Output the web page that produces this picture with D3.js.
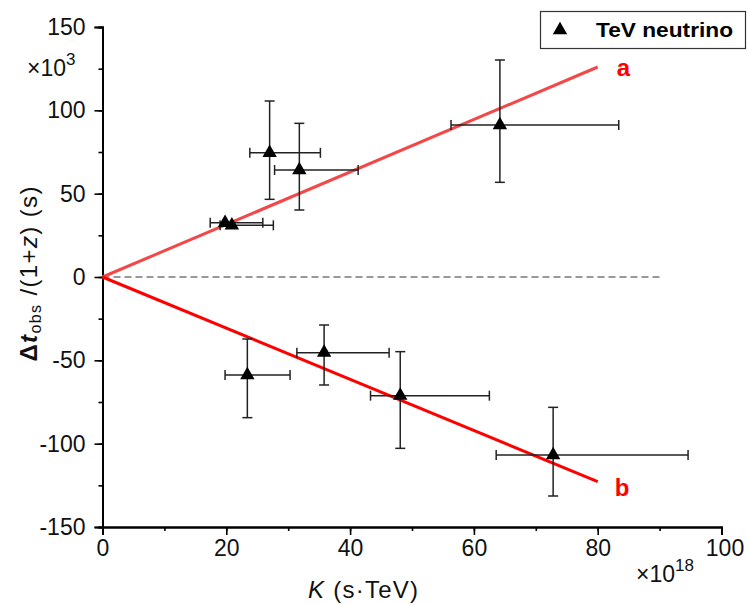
<!DOCTYPE html>
<html><head><meta charset="utf-8">
<script src="https://cdn.jsdelivr.net/npm/d3@7/dist/d3.min.js"></script>
<style>body{margin:0;background:#fff}svg{display:block}text{font-family:"Liberation Sans",Arial,sans-serif}</style>
</head><body><div id="chart"></div>
<script>
// Data (K in 1e18 s·TeV, Δt in 1e3 s)
const K      = [19.8, 20.9, 27.0, 31.8, 64.2, 23.4, 35.8, 48.1, 72.8];
const dt     = [32.5, 31.0, 74.5, 64.2, 91.2, -58.8, -45.4, -71.2, -106.8];
const kLow   = [17.4, 19.0, 23.8, 27.8, 56.3, 19.8, 31.4, 43.3, 63.6];
const kHigh  = [25.9, 27.6, 35.2, 41.3, 83.4, 30.3, 46.3, 62.5, 94.6];
const dtLow  = [32.5, 31.0, 46.6, 40.2, 56.8, -84.4, -64.8, -102.8, -131.4];
const dtHigh = [32.5, 31.0, 105.6, 92.2, 130.2, -37.2, -28.8, -44.8, -78.2];
const fitNames = ["a", "b"];
const fitSlopes = [1.575, -1.535];
const fitRange = [0, 80];
const zeroRange = [0, 90];
const xTicks = [0, 20, 40, 60, 80, 100];
const yTicks = [-150, -100, -50, 0, 50, 100, 150];
const legendLabel = "TeV neutrino";

const W = 748, H = 604;
const svg = d3.select("#chart").append("svg").attr("width", W).attr("height", H);
svg.append("rect").attr("width", W).attr("height", H).attr("fill", "#fff");

const x = d3.scaleLinear().domain([0, 100]).range([102.5, 721.5]);
const y = d3.scaleLinear().domain([-150, 150]).range([527, 27]);

// zero dashed line
svg.append("line")
  .attr("x1", x(zeroRange[0])).attr("x2", x(zeroRange[1]))
  .attr("y1", y(0)).attr("y2", y(0))
  .attr("stroke", "#333").attr("stroke-width", 1).attr("stroke-dasharray", "7,4");

// axes
const fs = 23;
const fmt = d => String(d);
const yAxisMinor = d3.axisLeft(y).tickValues(d3.range(-150, 151, 25)).tickSize(4).tickFormat("");
const yAxis = d3.axisLeft(y).tickValues(yTicks).tickSize(8).tickPadding(9).tickFormat(fmt);
const xAxisMinor = d3.axisBottom(x).tickValues(d3.range(0, 101, 10)).tickSize(4).tickFormat("");
const xAxis = d3.axisBottom(x).tickValues(xTicks).tickSize(8).tickPadding(5).tickFormat(fmt);

function styleAxis(g) {
  g.attr("font-family", null);
  g.select(".domain").attr("stroke", "#000").attr("stroke-width", 2);
  g.selectAll(".tick line").attr("stroke", "#000").attr("stroke-width", 1.6);
  g.selectAll(".tick text").attr("font-size", fs).attr("fill", "#111");
}
const gy0 = svg.append("g").attr("transform", `translate(${x(0)},0)`).call(yAxisMinor); styleAxis(gy0);
const gy = svg.append("g").attr("transform", `translate(${x(0)},0)`).call(yAxis); styleAxis(gy);
const gx0 = svg.append("g").attr("transform", `translate(0,${y(-150)})`).call(xAxisMinor); styleAxis(gx0);
const gx = svg.append("g").attr("transform", `translate(0,${y(-150)})`).call(xAxis); styleAxis(gx);
gx.selectAll(".tick text").filter(d => d === 100).attr("dx", 3);

// fit lines
const fitColors = ["#f44848", "#ff0000"];
fitNames.forEach((n, i) => {
  svg.append("line")
    .attr("x1", x(fitRange[0])).attr("y1", y(fitSlopes[i] * fitRange[0]))
    .attr("x2", x(fitRange[1])).attr("y2", y(fitSlopes[i] * fitRange[1]))
    .attr("stroke", fitColors[i]).attr("stroke-width", 3);
  svg.append("text")
    .attr("x", x(fitRange[1]) + (i === 0 ? 19 : 17))
    .attr("y", y(fitSlopes[i] * fitRange[1]) + (i === 0 ? 9 : 14))
    .attr("font-size", 24).attr("font-weight", "bold").attr("fill", "#ff0000")
    .text(n);
});

// error bars
const eb = svg.append("g").attr("stroke", "#222").attr("stroke-width", 1.5);
const cap = 5;
K.forEach((k, i) => {
  eb.append("line").attr("x1", x(kLow[i])).attr("x2", x(kHigh[i])).attr("y1", y(dt[i])).attr("y2", y(dt[i]));
  eb.append("line").attr("x1", x(kLow[i])).attr("x2", x(kLow[i])).attr("y1", y(dt[i]) - cap).attr("y2", y(dt[i]) + cap);
  eb.append("line").attr("x1", x(kHigh[i])).attr("x2", x(kHigh[i])).attr("y1", y(dt[i]) - cap).attr("y2", y(dt[i]) + cap);
  if (dtHigh[i] !== dtLow[i]) {
    eb.append("line").attr("x1", x(k)).attr("x2", x(k)).attr("y1", y(dtLow[i])).attr("y2", y(dtHigh[i]));
    eb.append("line").attr("x1", x(k) - cap).attr("x2", x(k) + cap).attr("y1", y(dtLow[i])).attr("y2", y(dtLow[i]));
    eb.append("line").attr("x1", x(k) - cap).attr("x2", x(k) + cap).attr("y1", y(dtHigh[i])).attr("y2", y(dtHigh[i]));
  }
});

// markers
const tri = d3.symbol().type(d3.symbolTriangle).size(90);
svg.append("g").selectAll("path").data(K).join("path")
  .attr("d", tri)
  .attr("transform", (d, i) => `translate(${x(d)},${y(dt[i])})`)
  .attr("fill", "#000");

// multipliers
const m1 = svg.append("text").attr("x", 27).attr("y", 76).attr("font-size", fs).attr("fill", "#111");
m1.append("tspan").text("×10");
m1.append("tspan").attr("font-size", 17).attr("dy", -11).text("3");
const m2 = svg.append("text").attr("x", 636).attr("y", 582).attr("font-size", fs).attr("fill", "#111");
m2.append("tspan").text("×10");
m2.append("tspan").attr("font-size", 17).attr("dy", -11).text("18");

// axis titles
const xl = svg.append("text").attr("x", 363).attr("y", 598).attr("text-anchor", "middle")
  .attr("font-size", 24).attr("fill", "#111").attr("textLength", 110).attr("lengthAdjust", "spacing");
xl.append("tspan").attr("font-style", "italic").text("K");
xl.append("tspan").text(" (s·TeV)");

const yl = svg.append("text").attr("transform", "translate(37,274) rotate(-90)").attr("text-anchor", "middle")
  .attr("font-size", 24).attr("fill", "#111").attr("textLength", 175).attr("lengthAdjust", "spacing");
yl.append("tspan").attr("font-weight", "bold").text("Δ");
yl.append("tspan").attr("font-weight", "bold").attr("font-style", "italic").text("t");
yl.append("tspan").attr("font-size", 16).attr("dy", 4).text("obs");
yl.append("tspan").attr("dy", -4).text(" /(1+");
yl.append("tspan").attr("font-style", "italic").text("z");
yl.append("tspan").text(") (s)");

// legend
const lg = svg.append("g");
lg.append("rect").attr("x", 540.5).attr("y", 11.5).attr("width", 205).attr("height", 37)
  .attr("fill", "#fff").attr("stroke", "#333").attr("stroke-width", 1.2);
lg.append("path").attr("d", tri).attr("transform", "translate(560,30)").attr("fill", "#000");
lg.append("text").attr("x", 596).attr("y", 37).attr("font-size", 21).attr("font-weight", "bold")
  .attr("fill", "#000").attr("textLength", 137).attr("lengthAdjust", "spacingAndGlyphs").text(legendLabel);
</script></body></html>
